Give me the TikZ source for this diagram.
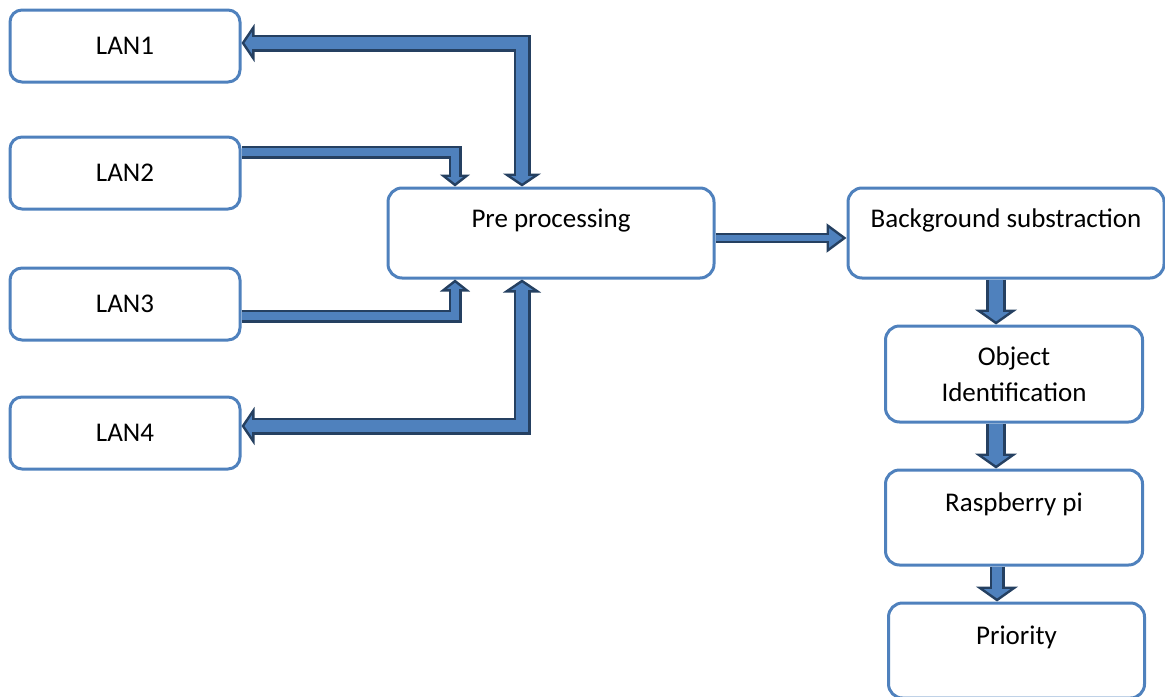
\documentclass[tikz,border=0pt]{standalone}
\usepackage{fontspec}
\setmainfont{Carlito}
\usetikzlibrary{arrows.meta,positioning,calc}
\definecolor{boxblue}{RGB}{79,129,189}
\definecolor{busblue}{RGB}{79,129,189}
\definecolor{busdark}{RGB}{37,64,97}
\newcommand{\uptext}[1]{#1\\[-3pt]\mbox{}}
\tikzset{
  lanbox/.style={draw=boxblue, fill=white, line width=1.5pt, rounded corners=6pt,
                 minimum width=115pt, minimum height=36pt, align=center},
  stepbox/.style={lanbox, rounded corners=7pt, minimum height=47.5pt, minimum width=128.5pt},
  bighead/.tip={Triangle[width=19pt, length=6.5pt, fill=busblue, line width=1.2pt]},
  midhead/.tip={Triangle[width=15pt, length=6pt, fill=busblue, line width=1.2pt]},
  flowhead/.tip={Triangle[width=14.5pt, length=10pt, fill=busblue, line width=1.2pt]},
  downhead/.tip={Triangle[width=21pt, length=7.5pt, fill=busblue, line width=1.2pt]},
  busarrow/.style={line width=8.5pt, draw=busdark, bighead-bighead,
                   postaction={draw=busblue, line width=5.6pt, shorten <=5pt, shorten >=5pt, -}},
  thinbusarrow/.style={line width=6.5pt, draw=busdark, -midhead,
                   postaction={draw=busblue, line width=4pt, shorten >=4.5pt, -}},
  flowarrow/.style={line width=5pt, draw=busdark, -flowhead,
                   postaction={draw=busblue, line width=2.8pt, shorten >=8.5pt, -}},
  downarrow/.style={line width=10pt, draw=busdark, -downhead,
                   postaction={draw=busblue, line width=7.2pt, shorten >=6pt, -}},
  shortdownarrow/.style={line width=7.5pt, draw=busdark, -downhead,
                   postaction={draw=busblue, line width=4.8pt, shorten >=6pt, -}},
}
\begin{document}
\begin{tikzpicture}[font=\fontsize{13.5}{18}\selectfont]
\useasboundingbox (0,0) rectangle (582.5pt,-348pt);
\clip (0,0) rectangle (582.5pt,-348pt);

% ---------------- cameras on the left ----------------
\node[lanbox] (lan1) at (62.5pt,-23pt) {LAN1};
\node[lanbox, below=26pt of lan1] (lan2) {LAN2};
\node[lanbox, below=28pt of lan2] (lan3) {LAN3};
\node[lanbox, below=27pt of lan3] (lan4) {LAN4};

% ---------------- processing chain ----------------
\node[stepbox, minimum width=163pt, minimum height=45pt] (pre) at (275.5pt,-116.5pt)
  {\uptext{Pre processing}};
\node[stepbox, right=65.5pt of pre, minimum width=158pt, minimum height=45pt] (bg)
  {\uptext{Background substraction}};
\node[stepbox, below=22.5pt of bg, xshift=4pt, minimum height=48pt] (obj)
  {Object\\Identification};
\node[stepbox, below=22.5pt of obj] (rasp) {\uptext{Raspberry pi}};
\node[stepbox, below=17.5pt of rasp, xshift=1.25pt, minimum width=128pt] (prio)
  {\uptext{Priority}};

% links between the cameras and the pre processing stage
\draw[busarrow] ([xshift=-14.5pt]pre.north) |- ([yshift=1.5pt]lan1.east);
\draw[thinbusarrow] ([yshift=10.5pt]lan2.east) -| ([xshift=-48pt]pre.north);
\draw[thinbusarrow] ([yshift=-6pt]lan3.east) -| ([xshift=-48pt]pre.south);
\draw[busarrow] ([xshift=-14.5pt]pre.south) |- ([yshift=3.5pt]lan4.east);

% main flow
\draw[flowarrow] ([yshift=-2.5pt]pre.east) -- ([yshift=-2.5pt]bg.west);
\coordinate (d1) at ([xshift=-5pt]bg.south);
\coordinate (d2) at ([xshift=-9pt]obj.south);
\coordinate (d3) at ([xshift=-8.5pt]rasp.south);
\draw[downarrow] (d1) -- (d1 |- obj.north);
\draw[downarrow] (d2) -- (d2 |- rasp.north);
\draw[shortdownarrow] (d3) -- (d3 |- prio.north);

\end{tikzpicture}
\end{document}
